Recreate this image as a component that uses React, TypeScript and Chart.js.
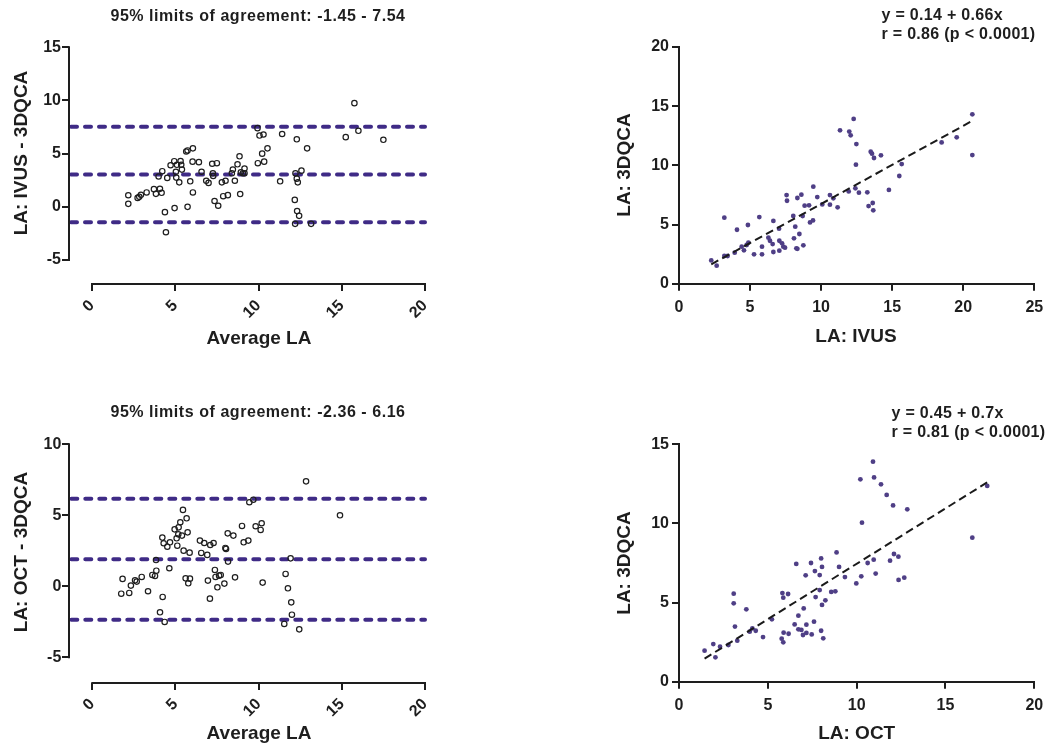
import React, { useEffect, useRef } from "react";
import { Chart, registerables } from "chart.js";

Chart.register(...registerables);

const FONT = '"Liberation Sans", Arial, Helvetica, sans-serif';
const INK = "#1e1e1e";
const LIMIT_COLOR = "#3f2b86";
const DOT_COLOR = "#4f3f86";
const PAGE_W = 1055;
const PAGE_H = 746;

// ---------- Data: Bland–Altman IVUS vs 3DQCA ----------
const baIvusAvg = [
  2.18, 2.18, 2.74, 2.84, 2.94, 3.28, 3.72, 3.84, 4.0, 4.08, 4.18, 4.22, 4.38, 4.44, 4.52, 4.72,
  4.94, 4.96, 5.04, 5.1, 5.06, 5.24, 5.32, 5.36, 5.4, 5.66, 5.74, 5.74, 5.9, 6.06, 6.04, 6.06,
  6.42, 6.58, 6.86, 7.0, 7.22, 7.26, 7.28, 7.36, 7.5, 7.58, 7.8, 7.88, 8.02, 8.16, 8.4, 8.46,
  8.58, 8.74, 8.86, 8.9, 8.94, 9.06, 9.16, 9.16, 9.94, 10.06, 9.96, 10.22, 10.3, 10.34, 10.54,
  11.3, 11.42, 12.18, 12.22, 12.3, 12.3, 12.36, 12.32, 12.44, 12.2, 12.58, 12.92, 13.16, 15.24,
  15.76, 16.0, 17.5,
];
const baIvusDiff = [
  1.09, 0.28, 0.84, 0.94, 1.13, 1.35, 1.66, 1.22, 2.85, 1.69, 1.32, 3.35, -0.5, -2.39, 2.72, 3.91,
  4.29, -0.12, 3.3, 3.95, 2.75, 2.3, 4.3, 3.95, 3.5, 5.2, 5.3, 0.0, 2.4, 5.5, 4.25, 1.35,
  4.2, 3.3, 2.45, 2.25, 4.05, 3.15, 2.9, 0.55, 4.1, 0.1, 2.3, 1.0, 2.45, 1.1, 3.15, 3.5,
  2.45, 4.0, 4.75, 1.2, 3.25, 3.15, 3.6, 3.15, 7.4, 6.7, 4.1, 5.0, 6.8, 4.25, 5.5,
  2.4, 6.85, 0.65, 3.15, 6.35, 2.65, 2.3, -0.4, -0.85, -1.6, 3.4, 5.5, -1.6, 6.55,
  9.75, 7.15, 6.3,
];
const baIvusLimits = [-1.45, 7.54];
const baIvusYTicks = [-5, 0, 5, 10, 15];
const baXTicks = [0, 5, 10, 15, 20];

// ---------- Data: regression IVUS vs 3DQCA ----------
const ivusX = [
  2.27, 2.65, 3.19, 3.19, 3.42, 3.92, 4.08, 4.41, 4.57, 4.76, 4.85, 4.88, 5.28, 5.65, 5.84, 5.84,
  6.29, 6.4, 6.64, 6.59, 6.64, 7.04, 7.06, 7.06, 7.25, 7.34, 7.46, 7.57, 7.6, 8.04, 8.09, 8.18,
  8.26, 8.33, 8.33, 8.47, 8.61, 8.7, 8.75, 8.84, 9.15, 9.22, 9.43, 9.45, 9.73, 10.08, 10.62,
  10.62, 10.86, 11.16, 11.33, 11.94, 11.98, 12.08, 12.29, 12.41, 12.45, 12.48, 12.66, 13.25,
  13.34, 13.49, 13.58, 13.63, 13.67, 13.72, 14.21, 14.77, 15.5, 15.67, 18.48, 19.54, 20.64, 20.64,
];
const ivusY = [
  1.97, 1.52, 5.58, 2.34, 2.34, 2.62, 4.56, 3.13, 2.82, 3.27, 4.96, 3.46, 2.48, 5.63, 3.13, 2.48,
  3.89, 3.63, 5.3, 3.35, 2.68, 4.65, 3.63, 2.79, 3.41, 3.13, 3.04, 7.49, 7.01, 5.72, 3.83, 4.82,
  2.99, 2.95, 7.24, 4.2, 7.52, 5.72, 3.24, 6.59, 6.62, 5.18, 5.35, 8.2, 7.32, 6.7, 7.49,
  6.68, 7.21, 6.45, 12.96, 7.8, 12.85, 12.54, 13.92, 8.06, 10.06, 11.8, 7.69, 7.72,
  6.56, 11.15, 10.99, 6.82, 6.2, 10.62, 10.85, 7.92, 9.1, 10.11, 11.94, 12.37, 14.31, 10.87,
];
const ivusFit = { intercept: 0.14, slope: 0.66 };
const ivusXTicks = [0, 5, 10, 15, 20, 25];
const ivusYTicks = [0, 5, 10, 15, 20];

// ---------- Data: Bland–Altman OCT vs 3DQCA ----------
const baOctAvg = [
  1.74, 1.82, 2.22, 2.32, 2.57, 2.67, 2.97, 3.35, 3.61, 3.77, 3.83, 3.85, 4.07, 4.21, 4.23, 4.29,
  4.35, 4.51, 4.63, 4.67, 4.95, 5.07, 5.11, 5.17, 5.19, 5.29, 5.39, 5.45, 5.49, 5.61, 5.67, 5.73,
  5.77, 5.87, 5.85, 6.47, 6.55, 6.73, 6.91, 6.95, 7.07, 7.09, 7.29, 7.37, 7.41, 7.52, 7.62, 7.72,
  7.94, 8.0, 8.04, 8.14, 8.16, 8.48, 8.58, 9.0, 9.1, 9.38, 9.44, 9.68, 9.82, 10.12, 10.18, 10.24,
  11.54, 11.62, 11.76, 11.92, 11.96, 12.0, 12.44, 12.85, 14.89,
];
const baOctDiff = [
  -0.52, 0.52, -0.47, 0.05, 0.42, 0.33, 0.66, -0.35, 0.8, 0.73, 1.85, 1.1, -1.83, 3.43, -0.75, 3.03,
  -2.51, 2.79, 1.27, 3.1, 4.01, 3.38, 2.86, 3.66, 4.15, 4.51, 3.57, 5.38, 2.51, 0.56, 4.79, 3.8,
  0.21, 0.54, 2.37, 3.22, 2.35, 3.05, 2.21, 0.4, -0.87, 2.91, 3.05, 1.15, 0.66, -0.07, 0.75, 0.8,
  0.19, 2.7, 2.63, 3.73, 1.74, 3.57, 0.63, 4.25, 3.1, 3.22, 5.92, 6.1, 4.23, 3.97, 4.44, 0.26,
  -2.65, 0.87, -0.14, 1.97, -1.13, -2.0, -3.03, 7.39, 5.0,
];
const baOctLimits = [-2.36, 6.16];
const baOctYTicks = [-5, 0, 5, 10];

// ---------- Data: regression OCT vs 3DQCA ----------
const octX = [
  1.44, 1.93, 2.05, 2.31, 2.78, 3.08, 3.08, 3.15, 3.28, 3.79, 3.98, 4.13, 4.32, 4.73, 5.23, 5.78,
  5.82, 5.87, 5.87, 5.89, 6.14, 6.17, 6.51, 6.6, 6.72, 6.72, 6.89, 6.98, 7.02, 7.13, 7.17, 7.17,
  7.43, 7.47, 7.6, 7.65, 7.69, 7.92, 7.92, 8.0, 8.0, 8.05, 8.05, 8.12, 8.24, 8.57, 8.8, 8.87,
  9.01, 9.34, 9.98, 10.21, 10.26, 10.3, 10.62, 10.92, 10.96, 10.98, 11.07, 11.37, 11.69, 11.88,
  12.05, 12.1, 12.35, 12.36, 12.68, 12.85, 16.51, 17.35,
];
const octY = [
  1.96, 2.38, 1.54, 2.21, 2.32, 5.56, 4.95, 3.48, 2.59, 4.57, 3.16, 3.37, 3.22, 2.82, 3.94, 2.72,
  5.6, 5.31, 2.49, 3.1, 5.54, 3.03, 3.62, 7.44, 4.17, 3.31, 3.27, 2.95, 4.63, 6.72, 3.6, 3.08,
  7.5, 2.99, 3.79, 6.99, 5.35, 6.74, 5.79, 7.79, 3.22, 7.25, 4.85, 2.74, 5.14, 5.67, 5.71, 8.17,
  7.25, 6.61, 6.21, 12.79, 6.66, 10.05, 7.5, 13.9, 7.71, 12.91, 6.83, 12.47, 11.8, 7.65,
  11.14, 8.07, 7.9, 6.43, 6.57, 10.89, 9.1, 12.37,
];
const octFit = { intercept: 0.45, slope: 0.7 };
const octXTicks = [0, 5, 10, 15, 20];
const octYTicks = [0, 5, 10, 15];

// ---------- Layout (page pixels) ----------
const Y_W = 80;
const X_H = 60;
const TICK_FONT = { family: FONT, size: 16, weight: "bold" as const };

type Area = { L: number; T: number; R: number; B: number };

const padFor = (a: Area) => ({
  left: a.L - Y_W,
  top: a.T,
  right: PAGE_W - a.R,
  bottom: Math.max(PAGE_H - a.B - X_H, 0),
});

const setTicks = (vals: number[]) => (scale: any) => {
  scale.ticks = vals.map((v) => ({ value: v }));
};

// Prism-style detached axes for the Bland–Altman panels
const detachedAxes = {
  id: "detachedAxes",
  afterDraw(chart: any, _args: any, opts: any) {
    if (!opts || !opts.enabled) return;
    const { ctx, chartArea, scales } = chart;
    const xs = scales.x;
    const ys = scales.y;
    const ax = Math.round(chartArea.left - opts.gapX);
    const ay = Math.round(chartArea.bottom + opts.gapY);
    ctx.save();
    ctx.strokeStyle = INK;
    ctx.lineWidth = 2;
    ctx.beginPath();
    ctx.moveTo(ax, ys.getPixelForValue(ys.max) - 1);
    ctx.lineTo(ax, ys.getPixelForValue(ys.min) + 1);
    ys.ticks.forEach((t: any) => {
      const p = Math.round(ys.getPixelForValue(t.value));
      ctx.moveTo(ax - opts.tick, p);
      ctx.lineTo(ax, p);
    });
    ctx.moveTo(xs.getPixelForValue(xs.min) - 1, ay);
    ctx.lineTo(xs.getPixelForValue(xs.max) + 1, ay);
    xs.ticks.forEach((t: any) => {
      const p = Math.round(xs.getPixelForValue(t.value));
      ctx.moveTo(p, ay);
      ctx.lineTo(p, ay + opts.tick);
    });
    ctx.stroke();
    ctx.restore();
  },
};

// Limits of agreement + bias lines, read through the y scale
const limitLines = {
  id: "limitLines",
  beforeDatasetsDraw(chart: any, _args: any, opts: any) {
    if (!opts || !opts.values) return;
    const { ctx, chartArea, scales } = chart;
    const ys = scales.y;
    const x0 = chartArea.left - opts.gapX + 2;
    const x1 = chartArea.right;
    ctx.save();
    ctx.strokeStyle = LIMIT_COLOR;
    ctx.lineWidth = 4;
    ctx.lineCap = "round";
    ctx.setLineDash([6, 8]);
    opts.values.forEach((v: number) => {
      const p = ys.getPixelForValue(v);
      ctx.beginPath();
      ctx.moveTo(x0, p);
      ctx.lineTo(x1, p);
      ctx.stroke();
    });
    ctx.restore();
  },
};

function baConfig(
  avg: number[],
  diff: number[],
  limits: number[],
  yTicks: number[],
  area: Area,
  gapY: number
) {
  const bias = (limits[0] + limits[1]) / 2;
  return {
    type: "scatter" as const,
    data: {
      datasets: [
        {
          data: avg.map((x, i) => ({ x, y: diff[i] })),
          pointRadius: 2.7,
          pointHoverRadius: 2.7,
          borderWidth: 1.2,
          borderColor: INK,
          backgroundColor: "rgba(255,255,255,0)",
          clip: false,
        },
      ],
    },
    plugins: [limitLines, detachedAxes],
    options: {
      animation: false as const,
      responsive: false,
      maintainAspectRatio: false,
      events: [],
      layout: { padding: padFor(area) },
      plugins: {
        legend: { display: false },
        tooltip: { enabled: false },
        limitLines: { values: [limits[1], bias, limits[0]], gapX: 23 },
        detachedAxes: { enabled: true, gapX: 23, gapY, tick: 7 },
      },
      scales: {
        x: {
          type: "linear" as const,
          min: baXTicks[0],
          max: baXTicks[baXTicks.length - 1],
          afterBuildTicks: setTicks(baXTicks),
          afterFit: (s: any) => {
            s.height = X_H;
          },
          grid: { display: false, drawTicks: false },
          border: { display: false },
          ticks: {
            font: TICK_FONT,
            color: INK,
            minRotation: 45,
            maxRotation: 45,
            padding: gapY + 12,
          },
        },
        y: {
          type: "linear" as const,
          min: yTicks[0],
          max: yTicks[yTicks.length - 1],
          afterBuildTicks: setTicks(yTicks),
          afterFit: (s: any) => {
            s.width = Y_W;
          },
          grid: { display: false, drawTicks: false },
          border: { display: false },
          ticks: { font: TICK_FONT, color: INK, padding: 31 },
        },
      },
    },
  };
}

function regConfig(
  xs: number[],
  ys: number[],
  fit: { intercept: number; slope: number },
  xTicks: number[],
  yTicks: number[],
  area: Area
) {
  const x0 = Math.min(...xs);
  const x1 = Math.max(...xs);
  const axisGrid = {
    drawOnChartArea: false,
    drawTicks: true,
    tickLength: 7,
    color: INK,
    lineWidth: 2,
  };
  return {
    type: "scatter" as const,
    data: {
      datasets: [
        {
          type: "line" as const,
          data: [
            { x: x0, y: fit.intercept + fit.slope * x0 },
            { x: x1, y: fit.intercept + fit.slope * x1 },
          ],
          borderColor: "#1a1a1a",
          borderWidth: 2,
          borderDash: [8, 4.5],
          pointRadius: 0,
          fill: false,
        },
        {
          data: xs.map((x, i) => ({ x, y: ys[i] })),
          pointRadius: 2.4,
          pointHoverRadius: 2.4,
          borderWidth: 0,
          backgroundColor: DOT_COLOR,
          clip: false,
        },
      ],
    },
    options: {
      animation: false as const,
      responsive: false,
      maintainAspectRatio: false,
      events: [],
      layout: { padding: padFor(area) },
      plugins: { legend: { display: false }, tooltip: { enabled: false } },
      scales: {
        x: {
          type: "linear" as const,
          min: xTicks[0],
          max: xTicks[xTicks.length - 1],
          afterBuildTicks: setTicks(xTicks),
          afterFit: (s: any) => {
            s.height = X_H;
          },
          grid: axisGrid,
          border: { display: true, color: INK, width: 2 },
          ticks: { font: TICK_FONT, color: INK, padding: 7, maxRotation: 0 },
        },
        y: {
          type: "linear" as const,
          min: yTicks[0],
          max: yTicks[yTicks.length - 1],
          afterBuildTicks: setTicks(yTicks),
          afterFit: (s: any) => {
            s.width = Y_W;
          },
          grid: axisGrid,
          border: { display: true, color: INK, width: 2 },
          ticks: { font: TICK_FONT, color: INK, padding: 3 },
        },
      },
    },
  };
}

const AREA_BA_IVUS: Area = { L: 92, T: 47.3, R: 425, B: 260 };
const AREA_REG_IVUS: Area = { L: 679, T: 47, R: 1034.3, B: 283.7 };
const AREA_BA_OCT: Area = { L: 92.3, T: 444.3, R: 425, B: 657.3 };
const AREA_REG_OCT: Area = { L: 679, T: 444.3, R: 1034.3, B: 681.7 };

const configs = [
  () => baConfig(baIvusAvg, baIvusDiff, baIvusLimits, baIvusYTicks, AREA_BA_IVUS, 24.3),
  () => regConfig(ivusX, ivusY, ivusFit, ivusXTicks, ivusYTicks, AREA_REG_IVUS),
  () => baConfig(baOctAvg, baOctDiff, baOctLimits, baOctYTicks, AREA_BA_OCT, 25.4),
  () => regConfig(octX, octY, octFit, octXTicks, octYTicks, AREA_REG_OCT),
];

type Label = {
  text: string;
  x: number;
  y: number;
  size: number;
  rotate?: boolean;
  left?: boolean;
  spacing?: number;
};

const texts: Label[] = [
  { text: "95% limits of agreement: -1.45 - 7.54", x: 258, y: 16, size: 16, spacing: 0.55 },
  { text: "LA: IVUS - 3DQCA", x: 20, y: 153, size: 19, rotate: true },
  { text: "Average LA", x: 259, y: 337, size: 19 },
  { text: "y = 0.14 + 0.66x", x: 881.5, y: 15, size: 16, left: true, spacing: 0.3 },
  { text: "r = 0.86 (p < 0.0001)", x: 881.5, y: 33.5, size: 16, left: true, spacing: 0.3 },
  { text: "LA: 3DQCA", x: 623, y: 165, size: 19, rotate: true },
  { text: "LA: IVUS", x: 856, y: 335, size: 19 },
  { text: "95% limits of agreement: -2.36 - 6.16", x: 258, y: 411.7, size: 16, spacing: 0.55 },
  { text: "LA: OCT - 3DQCA", x: 20, y: 552, size: 19, rotate: true },
  { text: "Average LA", x: 259, y: 731.7, size: 19 },
  { text: "y = 0.45 + 0.7x", x: 891.5, y: 413.3, size: 16, left: true, spacing: 0.3 },
  { text: "r = 0.81 (p < 0.0001)", x: 891.5, y: 431.7, size: 16, left: true, spacing: 0.3 },
  { text: "LA: 3DQCA", x: 623, y: 563, size: 19, rotate: true },
  { text: "LA: OCT", x: 856.7, y: 731.7, size: 19 },
];

function Panel({ make }: { make: () => any }) {
  const ref = useRef<HTMLCanvasElement>(null);
  useEffect(() => {
    if (!ref.current) return;
    const chart = new Chart(ref.current, make());
    return () => chart.destroy();
  }, [make]);
  return (
    <canvas
      ref={ref}
      width={PAGE_W}
      height={PAGE_H}
      style={{ position: "absolute", left: 0, top: 0, width: PAGE_W, height: PAGE_H }}
    />
  );
}

export default function App() {
  return (
    <div
      style={{
        position: "absolute",
        left: 0,
        top: 0,
        width: PAGE_W,
        height: PAGE_H,
        background: "#ffffff",
        overflow: "hidden",
        fontFamily: FONT,
      }}
    >
      {configs.map((make, i) => (
        <Panel key={i} make={make} />
      ))}
      {texts.map((t, i) => (
        <div
          key={"t" + i}
          style={{
            position: "absolute",
            left: t.x,
            top: t.y,
            fontSize: t.size,
            fontWeight: "bold",
            color: INK,
            whiteSpace: "nowrap",
            lineHeight: 1,
            letterSpacing: t.spacing ? t.spacing + "px" : undefined,
            transform: t.rotate
              ? "translate(-50%, -50%) rotate(-90deg)"
              : t.left
              ? "translate(0, -50%)"
              : "translate(-50%, -50%)",
          }}
        >
          {t.text}
        </div>
      ))}
    </div>
  );
}
